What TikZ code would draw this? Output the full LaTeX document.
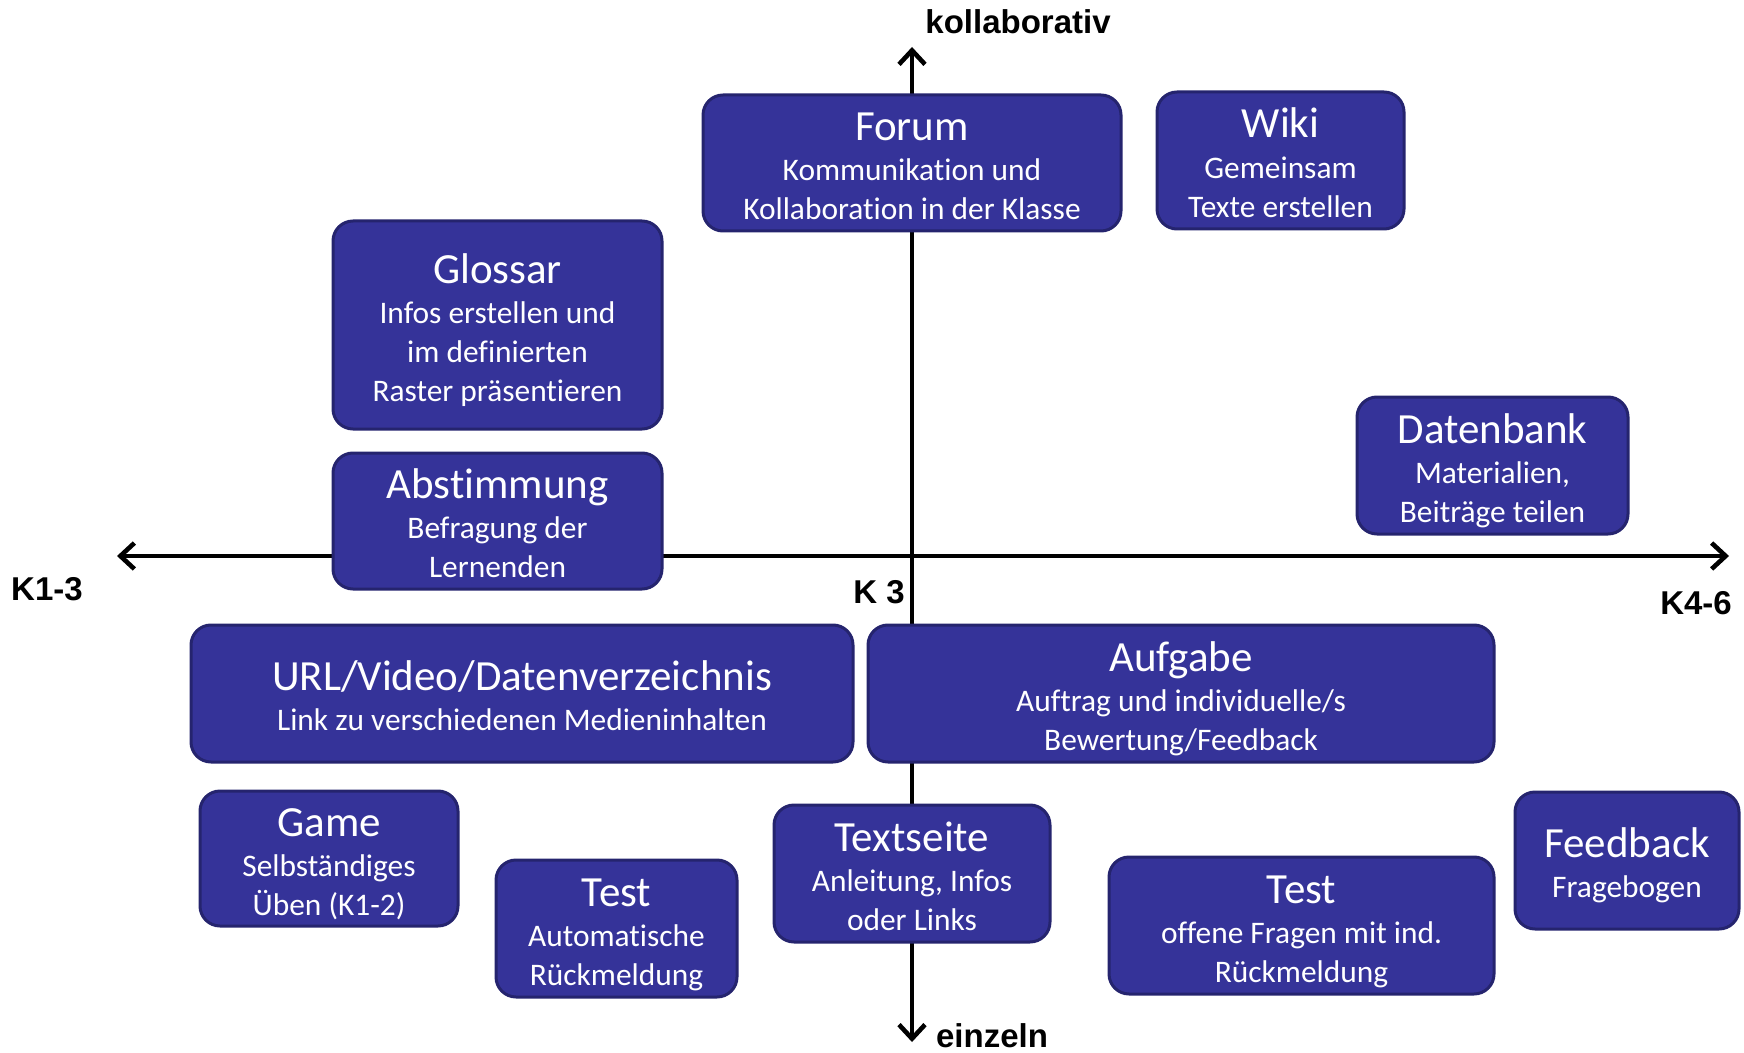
\documentclass[tikz,border=0pt]{standalone}
\usepackage{fontspec}
\setmainfont{Carlito}[Ligatures=NoCommon]
\newfontfamily\labfont{Liberation Sans}
\usetikzlibrary{arrows.meta}
\definecolor{boxfill}{RGB}{53,51,153}
\definecolor{boxborder}{RGB}{37,36,110}
\newcommand{\ttl}[1]{{\fontsize{21.5}{26}\selectfont\rule{0pt}{21.1pt}#1}\\[0.6pt]}
\newcommand{\eol}{\rule[-4pt]{0pt}{0pt}}
\begin{document}
\begin{tikzpicture}[x=0.5pt,y=-0.5pt,
  box/.style={draw=boxborder, line width=1.5pt, fill=boxfill, rounded corners=10pt,
    text=white, align=center, inner sep=0pt, font=\fontsize{15.7}{19.5}\selectfont},
  axis/.style={line width=2.3pt, black, {Straight Barb[length=7pt,width=13pt,line width=2.3pt]}-{Straight Barb[length=7pt,width=13pt,line width=2.3pt]}},
  lab/.style={font=\labfont\bfseries\fontsize{16.5}{19}\selectfont, text=black, inner sep=0pt}]
\useasboundingbox (0,0) rectangle (1744,1053);
% axes
\coordinate (ltip) at (117,556);
\coordinate (rtip) at (1729,556);
\coordinate (ttip) at (912,47);
\coordinate (btip) at (912,1042);
\draw[axis] (ltip) -- (rtip);
\draw[axis] (btip) -- (ttip);
% labels
\node[lab] (kol) at (1018,22) {kollaborativ};
\node[lab] (ein) at (992,1036) {einzeln};
\node[lab] (k13) at (47,589) {K1-3};
\node[lab] (k3) at (879,592) {K 3};
\node[lab] (k46) at (1696,603) {K4-6};
% boxes
\node[box, minimum width=209pt, minimum height=68pt] (forum) at (912,163)
  {\ttl{Forum}Kommunikation und\\Kollaboration in der Klasse\eol};
\node[box, minimum width=123.5pt, minimum height=68.5pt] (wiki) at (1280.5,160.5)
  {\ttl{Wiki}Gemeinsam\\Texte erstellen\eol};
\node[box, minimum width=164.5pt, minimum height=104pt] (glossar) at (497.5,325)
  {\ttl{Glossar}Infos erstellen und\\im definierten\\Raster präsentieren\eol};
\node[box, minimum width=164.5pt, minimum height=68pt] (abst) at (497.5,521)
  {\ttl{Abstimmung}Befragung der\\Lernenden\eol};
\node[box, minimum width=135.5pt, minimum height=68.5pt] (datenbank) at (1492.5,465.5)
  {\ttl{Datenbank}Materialien,\\Beiträge teilen\eol};
\node[box, minimum width=331pt, minimum height=68.5pt] (url) at (522,693.5)
  {\ttl{URL/Video/Datenverzeichnis}Link zu verschiedenen Medieninhalten\eol};
\node[box, minimum width=313pt, minimum height=68.5pt] (aufgabe) at (1181,693.5)
  {\ttl{Aufgabe}Auftrag und individuelle/s\\Bewertung/Feedback\eol};
\node[box, minimum width=129pt, minimum height=67.5pt] (game) at (329,858.5)
  {\ttl{Game}Selbständiges\\Üben (K1-2)\eol};
\node[box, minimum width=120.5pt, minimum height=68.5pt] (testa) at (616.5,928.5)
  {\ttl{Test}Automatische\\Rückmeldung\eol};
\node[box, minimum width=138pt, minimum height=68.5pt] (textseite) at (912,873.5)
  {\ttl{Textseite}Anleitung, Infos\\oder Links\eol};
\node[box, minimum width=192.5pt, minimum height=68.5pt] (testb) at (1301.5,925.5)
  {\ttl{Test}offene Fragen mit ind.\\Rückmeldung\eol};
\node[box, minimum width=112pt, minimum height=68.5pt] (feedback) at (1627,860.5)
  {\ttl{Feedback}Fragebogen\eol};
\end{tikzpicture}
\end{document}
